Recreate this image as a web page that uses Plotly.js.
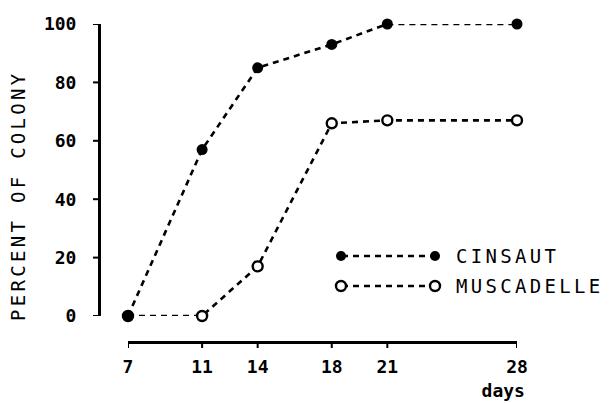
<!DOCTYPE html>
<html>
<head>
<meta charset="utf-8">
<script src="https://cdn.plot.ly/plotly-3.0.1.min.js"></script>
<style>
html,body{margin:0;padding:0;background:#fff;}
.annotation-text{letter-spacing:3.3px;}
.annotation[data-index="3"] .annotation-text{letter-spacing:0px;}
</style>
</head>
<body>
<div id="chart" style="width:612px;height:403px;"></div>
<script>
// ---- data ----
const days = [7, 11, 14, 18, 21, 28];
const cinsaut = [0, 57, 85, 93, 100, 100];
const muscadelle = [0, 0, 17, 66, 67, 67];
const yTicks = [0, 20, 40, 60, 80, 100];
const seriesNames = ["CINSAUT", "MUSCADELLE"];
const yTitle = "PERCENT OF COLONY";
const xUnit = "days";

// ---- geometry helpers (pixel -> paper) ----
const W = 612, H = 403;
const M = {l: 99, r: 95, t: 24, b: 61};
const PW = W - M.l - M.r, PH = H - M.t - M.b;
const px = x => (x - M.l) / PW;
const py = y => (H - M.b - y) / PH;

const mono = "DejaVu Sans Mono, monospace";
const dash = "6px,5px";

const traceM = {
  x: days, y: muscadelle, name: seriesNames[1], type: "scatter", mode: "lines+markers",
  line: {color: "#000", width: 2.6, dash: dash},
  marker: {symbol: "circle", size: 10, color: "#fff", line: {color: "#000", width: 2.4}},
  cliponaxis: false
};
const traceC = {
  x: days, y: cinsaut, name: seriesNames[0], type: "scatter", mode: "lines+markers",
  line: {color: "#000", width: 2.6, dash: dash},
  marker: {symbol: "circle", size: 11, color: "#000", line: {color: "#000", width: 0}},
  cliponaxis: false
};

function legendRow(yPix, filled) {
  const shapes = [];
  shapes.push({type: "line", xref: "paper", yref: "paper",
    x0: px(342), x1: px(435), y0: py(yPix), y1: py(yPix),
    line: {color: "#000", width: 2.6, dash: dash}});
  [341, 435].forEach(cx => {
    shapes.push({type: "circle", xref: "paper", yref: "paper",
      xsizemode: "pixel", ysizemode: "pixel",
      xanchor: px(cx), yanchor: py(yPix),
      x0: -5, x1: 5, y0: -5, y1: 5,
      fillcolor: filled ? "#000" : "#fff",
      line: {color: "#000", width: filled ? 0 : 2.4}});
  });
  return shapes;
}

// inward-pointing tick marks, placed through the axes' own scales
const TL = 6;
const xTickShapes = days.map(v => ({type: "line", xref: "x", yref: "paper",
  x0: v, x1: v, ysizemode: "pixel", yanchor: 0, y0: 0, y1: -TL,
  line: {color: "#000", width: 2}}));
const yTickShapes = yTicks.map(v => ({type: "line", xref: "paper", yref: "y",
  y0: v, y1: v, xsizemode: "pixel", xanchor: 0, x0: 0, x1: -TL,
  line: {color: "#000", width: 2}}));

const layout = {
  width: W, height: H,
  margin: {l: M.l, r: M.r, t: M.t, b: M.b, pad: 0},
  paper_bgcolor: "#fff", plot_bgcolor: "rgba(0,0,0,0)",
  showlegend: false,
  font: {family: mono, color: "#000"},
  xaxis: {
    domain: [px(128), 1], range: [7, 28], anchor: "free", position: 0,
    showline: true, linecolor: "#000", linewidth: 3, ticks: "",
    tickmode: "array", tickvals: days, ticktext: days.map(String),
    showgrid: false, zeroline: false,
    tickfont: {family: mono, size: 18, color: "#000", weight: "bold"},
    ticklabelstandoff: 7
  },
  yaxis: {
    domain: [py(316), 1], range: [0, 100], anchor: "free", position: 0,
    showline: true, linecolor: "#000", linewidth: 3, ticks: "",
    tickmode: "array", tickvals: yTicks, ticktext: yTicks.map(String),
    showgrid: false, zeroline: false,
    tickfont: {family: mono, size: 18, color: "#000", weight: "bold"},
    ticklabelstandoff: 18
  },
  annotations: [
    {text: yTitle, xref: "paper", yref: "paper", x: px(18), y: py(196),
     textangle: -90, showarrow: false, xanchor: "center", yanchor: "middle",
     font: {family: mono, size: 19, color: "#000"}},
    {text: seriesNames[0], xref: "paper", yref: "paper", x: px(454), y: py(256),
     showarrow: false, xanchor: "left", yanchor: "middle",
     font: {family: mono, size: 19, color: "#000"}},
    {text: seriesNames[1], xref: "paper", yref: "paper", x: px(454), y: py(286),
     showarrow: false, xanchor: "left", yanchor: "middle",
     font: {family: mono, size: 19, color: "#000"}},
    {text: xUnit, xref: "paper", yref: "paper", x: px(503), y: py(390),
     showarrow: false, xanchor: "center", yanchor: "middle",
     font: {family: mono, size: 18, color: "#000", weight: "bold"}}
  ],
  shapes: [].concat(xTickShapes, yTickShapes, legendRow(256, true), legendRow(286, false))
};

Plotly.newPlot("chart", [traceM, traceC], layout, {displayModeBar: false, staticPlot: true});
</script>
</body>
</html>
